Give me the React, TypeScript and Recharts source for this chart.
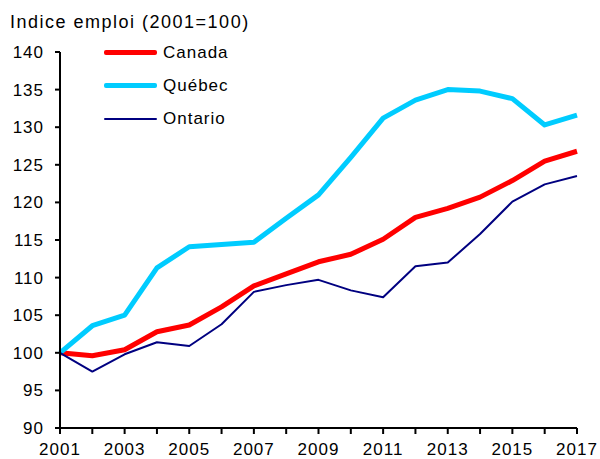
import React from 'react';
import { LineChart, Line, XAxis, YAxis } from 'recharts';

const years = [2001, 2002, 2003, 2004, 2005, 2006, 2007, 2008, 2009, 2010, 2011, 2012, 2013, 2014, 2015, 2016, 2017];
const canada = [100, 99.6, 100.4, 102.8, 103.7, 106.1, 108.9, 110.5, 112.1, 113.1, 115.1, 118.0, 119.2, 120.7, 122.9, 125.5, 126.8];
const quebec = [100, 103.6, 105.0, 111.3, 114.1, 114.4, 114.7, 117.9, 121.0, 126.0, 131.2, 133.6, 135.0, 134.8, 133.8, 130.3, 131.6];
const ontario = [100, 97.5, 99.8, 101.4, 100.9, 103.8, 108.1, 109.0, 109.7, 108.3, 107.4, 111.5, 112.0, 115.8, 120.1, 122.4, 123.5];
const yTicks = [90, 95, 100, 105, 110, 115, 120, 125, 130, 135, 140];

const series = [
  { key: 'canada', name: 'Canada', color: '#FF0000', width: 5 },
  { key: 'quebec', name: 'Québec', color: '#00CCFF', width: 5 },
  { key: 'ontario', name: 'Ontario', color: '#000080', width: 2 },
];

const data = years.map((year, i) => ({
  year,
  canada: canada[i],
  quebec: quebec[i],
  ontario: ontario[i],
}));

const font = '"Liberation Sans", Arial, sans-serif';

const XTick = (props: any) => {
  const { x, y, payload } = props;
  if (payload.value % 2 === 0) return null;
  return (
    <text x={x} y={y} dy="0.71em" textAnchor="middle" fill="#000" fontSize={17} fontFamily={font} letterSpacing={1}>
      {payload.value}
    </text>
  );
};

// legend drawn as an overlay so it doesn't take room from the plot
const LegendBox = () => (
  <div
    style={{
      position: 'absolute',
      left: 104,
      top: 36,
      fontFamily: font,
      fontSize: 17,
      letterSpacing: 1,
      color: '#000',
    }}
  >
    {series.map((s) => (
      <div key={s.key} style={{ display: 'flex', alignItems: 'center', height: 33 }}>
        <div style={{ width: 53, height: s.width, background: s.color, borderRadius: 2 }} />
        <span style={{ marginLeft: 6 }}>{s.name}</span>
      </div>
    ))}
  </div>
);

export default function App() {
  return (
    <div style={{ position: 'absolute', left: 0, top: 0, width: 600, height: 459, background: '#fff' }}>
      <div
        style={{
          position: 'absolute',
          left: 10,
          top: 13,
          fontFamily: font,
          fontSize: 18,
          lineHeight: '18px',
          letterSpacing: 1.5,
          color: '#000',
        }}
      >
        Indice emploi (2001=100)
      </div>
      <LineChart width={600} height={459} data={data} margin={{ top: 52, right: 23, bottom: 0, left: 0 }}>
        <XAxis
          dataKey="year"
          type="number"
          domain={[2001, 2017]}
          ticks={years}
          interval={0}
          height={31}
          tickSize={6}
          tickMargin={9}
          stroke="#000"
          strokeWidth={2}
          tick={<XTick />}
        />
        <YAxis
          domain={[90, 140]}
          ticks={yTicks}
          interval={0}
          width={60}
          tickSize={5}
          tickMargin={11}
          stroke="#000"
          strokeWidth={2}
          tick={{ fill: '#000', fontSize: 17, fontFamily: font, letterSpacing: 1 }}
        />
        {series.map((s) => (
          <Line
            key={s.key}
            dataKey={s.key}
            name={s.name}
            stroke={s.color}
            strokeWidth={s.width}
            dot={false}
            isAnimationActive={false}
            strokeLinejoin="round"
          />
        ))}
      </LineChart>
      <LegendBox />
    </div>
  );
}
